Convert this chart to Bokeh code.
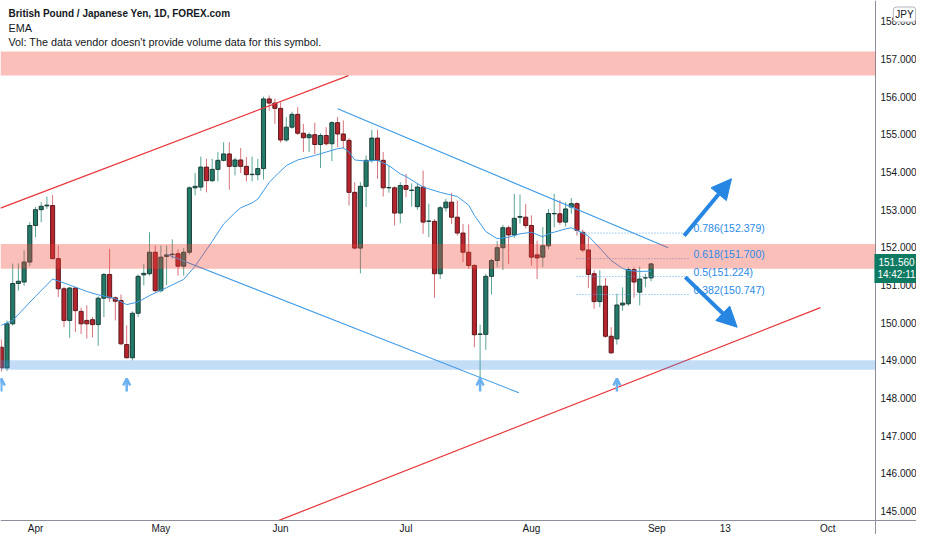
from bokeh.plotting import figure
from bokeh.models import (Range1d, FixedTicker, NumeralTickFormatter, ColumnDataSource,
                          BoxAnnotation, Label, Arrow, NormalHead, OpenHead)
from bokeh.embed import file_html
from bokeh.resources import INLINE

# ---------------- data (bar index 0 = 1 Apr 2021, trading days) ----------------
bar_idx = list(range(-6, 109))
opens = [149.35, 148.80, 149.97, 151.04, 151.08, 151.61,
         152.58, 153.00, 153.10, 153.11, 151.70, 150.90, 150.06, 150.92, 150.30, 150.06,
         150.08, 149.95, 150.65, 151.28, 150.66, 150.59, 149.42, 149.07, 150.25, 151.27,
         151.30, 151.87, 150.85, 151.76, 151.81, 151.83, 151.50, 151.87, 153.58, 153.60,
         154.13, 153.77, 154.07, 154.31, 154.48, 154.15, 154.32, 154.15, 153.93, 153.93,
         154.09, 155.94, 155.83, 155.69, 154.85, 155.19, 155.53, 155.03, 154.91, 154.99,
         154.73, 154.97, 154.75, 155.31, 155.01, 154.84, 153.46, 151.98, 153.62, 154.31,
         154.90, 154.31, 153.58, 153.58, 152.91, 153.64, 153.51, 153.08, 153.60, 152.69,
         152.69, 151.30, 153.05, 153.20, 152.80, 152.38, 151.87, 151.52, 149.69, 149.69,
         151.23, 151.65, 151.99, 152.52, 152.33, 152.80, 152.80, 152.58, 151.80, 151.74,
         152.04, 152.89, 152.89, 152.67, 153.07, 153.16, 152.40, 151.93, 151.30, 150.56,
         150.97, 149.64, 149.57, 150.47, 150.50, 151.41, 150.81, 151.19, 151.19]
highs = [149.55, 150.06, 151.57, 151.57, 151.92, 152.67,
         153.07, 153.20, 153.35, 153.39, 152.05, 150.95, 150.95, 150.95, 150.40, 150.46,
         150.15, 150.70, 151.32, 151.96, 150.70, 150.75, 149.93, 150.30, 151.28, 151.56,
         152.40, 152.05, 152.05, 152.05, 152.21, 151.95, 151.98, 153.62, 153.97, 154.41,
         154.35, 154.35, 154.53, 154.79, 154.79, 154.38, 154.64, 154.40, 154.41, 154.35,
         156.00, 156.03, 155.95, 155.85, 155.46, 155.60, 155.72, 155.28, 155.05, 155.31,
         155.03, 155.19, 155.35, 155.46, 155.37, 154.90, 153.73, 153.73, 154.44, 155.12,
         155.12, 154.53, 154.17, 153.62, 153.73, 153.95, 153.70, 153.70, 154.04, 153.16,
         152.75, 153.10, 153.29, 153.44, 153.24, 152.62, 152.61, 151.55, 149.95, 151.30,
         151.70, 152.17, 152.60, 152.58, 153.42, 153.40, 153.15, 152.85, 152.18, 152.54,
         153.02, 153.42, 153.25, 153.20, 153.31, 153.20, 152.47, 152.27, 151.39, 151.39,
         151.19, 149.88, 150.77, 150.94, 151.47, 151.47, 151.49, 151.30, 151.58]
lows = [148.70, 148.72, 149.92, 150.85, 150.98, 151.50,
        152.27, 152.67, 153.02, 151.68, 150.68, 149.88, 149.60, 149.75, 149.70, 149.58,
        149.61, 149.39, 150.15, 150.55, 150.06, 149.40, 149.05, 149.00, 150.15, 150.99,
        151.25, 150.80, 150.80, 151.00, 151.70, 151.25, 151.25, 151.80, 153.38, 153.50,
        153.46, 153.73, 153.75, 154.28, 153.53, 153.91, 153.97, 153.75, 153.75, 153.78,
        153.80, 155.63, 155.28, 154.78, 154.80, 155.15, 154.98, 154.53, 154.53, 154.48,
        154.11, 154.70, 154.29, 154.66, 154.62, 153.11, 151.95, 151.31, 153.07, 154.25,
        153.82, 153.35, 153.45, 152.58, 152.64, 153.33, 153.08, 153.00, 152.36, 152.27,
        150.66, 151.16, 152.95, 152.62, 152.31, 151.61, 151.43, 149.35, 148.46, 149.28,
        150.75, 151.47, 151.40, 151.56, 152.25, 152.63, 152.50, 151.52, 151.16, 151.47,
        151.95, 152.53, 152.60, 152.55, 152.89, 152.31, 151.87, 150.92, 150.37, 150.41,
        149.60, 149.17, 149.42, 150.32, 150.45, 150.66, 150.46, 150.94, 151.10]
closes = [148.80, 149.97, 151.04, 151.10, 151.61, 152.58,
          153.00, 153.09, 153.12, 151.70, 150.90, 150.06, 150.92, 150.32, 149.97, 149.97,
          149.95, 150.65, 151.28, 150.66, 150.57, 149.44, 149.07, 150.25, 151.23, 151.31,
          151.87, 150.85, 151.74, 151.80, 151.82, 151.50, 151.87, 153.58, 153.62, 154.13,
          153.77, 154.07, 154.31, 154.48, 154.15, 154.32, 154.15, 153.93, 153.94, 154.09,
          155.94, 155.83, 155.69, 154.85, 155.19, 155.53, 155.03, 154.91, 154.99, 154.73,
          154.97, 154.75, 155.31, 155.01, 154.84, 153.46, 151.98, 153.62, 154.31, 154.90,
          154.31, 153.58, 153.59, 152.91, 153.64, 153.54, 153.52, 153.60, 152.67, 152.70,
          151.30, 153.05, 153.20, 152.80, 152.38, 151.87, 151.52, 149.68, 149.70, 151.23,
          151.65, 151.99, 152.52, 152.33, 152.77, 152.82, 152.58, 151.74, 151.72, 152.04,
          152.90, 152.90, 152.67, 153.02, 153.16, 152.45, 151.93, 151.28, 150.56, 150.97,
          149.64, 149.20, 150.47, 150.52, 151.41, 151.08, 151.16, 151.19, 151.56]

ema_idx = [-6, -4, 0, 3, 6, 9, 11, 14, 16, 18, 20, 23, 26, 28, 31, 33, 35, 36, 38, 39,
           41, 42, 44, 46, 49, 51, 53, 54, 55, 56, 58, 60, 62, 64, 65, 68, 71, 74, 76, 77,
           79, 81, 83, 85, 87, 89, 90, 93, 94, 96, 97, 99, 101, 103, 104, 106, 108]
ema_val = [149.93, 150.06, 150.70, 151.16, 151.00, 150.83, 150.74, 150.64, 150.48, 150.55,
           150.72, 150.93, 151.15, 151.50, 152.16, 152.62, 152.92, 153.05, 153.18, 153.28,
           153.72, 153.88, 154.17, 154.32, 154.44, 154.53, 154.62, 154.64, 154.53, 154.32,
           154.29, 154.31, 154.17, 153.95, 153.88, 153.60, 153.46, 153.35, 153.12, 152.85,
           152.42, 152.23, 152.27, 152.36, 152.40, 152.28, 152.36, 152.49, 152.52, 152.38,
           152.30, 151.98, 151.65, 151.44, 151.39, 151.36, 151.37]

price_ticks = [145, 146, 147, 148, 149, 150, 151, 152, 153, 154, 155, 156, 157, 158]
date_ticks = [0, 22, 43, 65, 87, 109, 121, 139]
date_labels = ["Apr", "May", "Jun", "Jul", "Aug", "Sep", "13", "Oct"]

# drawings (bar index, price)
zones_pink = [(156.56, 157.20), (151.43, 152.09)]
zone_blue = (148.75, 149.00)
red_lines = [((-6.14, 153.04), (54.9, 156.56)), ((39.5, 144.56), (137.7, 150.40))]
blue_lines = [((53.0, 155.68), (111.0, 151.99)), ((23.1, 151.81), (84.8, 148.14))]
fib_ratios = ["0.786", "0.618", "0.5", "0.382"]
fib_levels = [152.379, 151.700, 151.224, 150.747]
fib_start, fib_end = 94.9, 114.6
big_arrows = [((113.8, 152.31), (122.1, 153.82)), ((114.0, 151.21), (123.1, 149.88))]
marker_idx = [-6, 16, 78, 102]
last_price = 151.560
countdown = "14:42:11"

# ---------------- layout helpers (reference pixel -> data) ----------------
X0, DX = 35.0, 5.7        # x of bar 0, px per bar
Y157, PPU = 58.5, 37.67   # y of 157.000, px per unit
W, H = 916, 534
AX_X, AX_Y = 875, 520     # price-scale line x, time-scale line y


def px2k(x):
    return (x - X0) / DX


def py2p(y):
    return 157 - (y - Y157) / PPU


FONT = "Liberation Sans"
TXT = "#131722"
GREEN_F, GREEN_L, GREEN_W = "#227a69", "#1c3d37", "#5aa597"
RED_F, RED_L, RED_W = "#b6242e", "#5c1a1e", "#d6737b"

p = figure(width=W, height=H, output_backend="svg", toolbar_location=None,
           x_range=Range1d(px2k(0), px2k(W)), y_range=Range1d(py2p(H), py2p(0)),
           y_axis_location="right", x_axis_location="below",
           min_border=0, min_border_left=0, min_border_top=0,
           min_border_right=0, min_border_bottom=0)
p.background_fill_color = "white"
p.border_fill_color = "white"
p.outline_line_color = None
p.xgrid.visible = False
p.ygrid.visible = False

# axes (fixed inside the canvas so the price scale area can hold annotations)
ya = p.yaxis[0]
ya.fixed_location = px2k(AX_X)
ya.ticker = FixedTicker(ticks=price_ticks)
ya.formatter = NumeralTickFormatter(format="0.000")
ya.major_tick_line_color = None
ya.minor_tick_line_color = None
ya.major_tick_out = 0
ya.major_tick_in = 0
ya.major_label_standoff = 5
ya.major_label_text_font = FONT
ya.major_label_text_font_size = "10px"
ya.major_label_text_color = TXT
ya.axis_line_color = "#8c8f99"

xa = p.xaxis[0]
xa.fixed_location = py2p(AX_Y)
xa.ticker = FixedTicker(ticks=date_ticks)
xa.major_label_overrides = {t: l for t, l in zip(date_ticks, date_labels)}
xa.major_tick_line_color = None
xa.minor_tick_line_color = None
xa.major_tick_out = 0
xa.major_tick_in = 0
xa.major_label_standoff = 2
xa.major_label_text_font = FONT
xa.major_label_text_font_size = "10px"
xa.major_label_text_color = TXT
xa.axis_line_color = "#8c8f99"

# candles
up = [i for i in range(len(bar_idx)) if closes[i] >= opens[i]]
dn = [i for i in range(len(bar_idx)) if closes[i] < opens[i]]


def src(ids):
    return ColumnDataSource(dict(
        x=[bar_idx[i] for i in ids],
        h=[highs[i] for i in ids], l=[lows[i] for i in ids],
        top=[max(opens[i], closes[i]) for i in ids],
        bot=[min(opens[i], closes[i]) for i in ids]))


su, sd = src(up), src(dn)
p.segment(x0="x", y0="l", x1="x", y1="h", source=su, line_color=GREEN_W, line_width=1)
p.segment(x0="x", y0="l", x1="x", y1="h", source=sd, line_color=RED_W, line_width=1)
p.vbar(x="x", top="top", bottom="bot", width=0.72, source=su,
       fill_color=GREEN_F, line_color=GREEN_L, line_width=1)
p.vbar(x="x", top="top", bottom="bot", width=0.72, source=sd,
       fill_color=RED_F, line_color=RED_L, line_width=1)

# EMA
p.line(ema_idx, ema_val, line_color="#3d9ae6", line_width=1)

# zones (stop at the price scale)
for b, t in zones_pink:
    p.add_layout(BoxAnnotation(bottom=b, top=t, right=px2k(AX_X), fill_color="#f44336",
                               fill_alpha=0.34, line_color=None))
p.add_layout(BoxAnnotation(bottom=zone_blue[0], top=zone_blue[1], right=px2k(AX_X),
                           fill_color="#3d8ee6", fill_alpha=0.3, line_color=None))

# trend lines
p.segment(x0=[a[0] for a, b in red_lines], y0=[a[1] for a, b in red_lines],
          x1=[b[0] for a, b in red_lines], y1=[b[1] for a, b in red_lines],
          line_color="#e8363a", line_width=1.2)
p.segment(x0=[a[0] for a, b in blue_lines], y0=[a[1] for a, b in blue_lines],
          x1=[b[0] for a, b in blue_lines], y1=[b[1] for a, b in blue_lines],
          line_color="#3d9ae6", line_width=1.1)

# fib levels
p.segment(x0=[fib_start] * 4, x1=[fib_end] * 4, y0=fib_levels, y1=fib_levels,
          line_color="#5aa6ea", line_width=1, line_dash="1 2")

# white time-scale strip under the chart area
p.quad(left=px2k(0), right=px2k(W), bottom=py2p(H), top=py2p(AX_Y),
       fill_color="white", line_color=None)

for r, lv in zip(fib_ratios, fib_levels):
    p.add_layout(Label(x=px2k(693), y=lv + 5 / PPU, text=f"{r}({lv:.3f})",
                       text_font=FONT, text_font_size="10.5px",
                       text_color="#2b8be6", text_baseline="middle", text_align="left"))

# big arrows
for (xs, ys), (xe, ye) in big_arrows:
    p.add_layout(Arrow(end=NormalHead(size=20, fill_color="#2686e2", line_color="#2686e2"),
                       x_start=xs, y_start=ys, x_end=xe, y_end=ye,
                       line_color="#2686e2", line_width=4))

# small up markers under lows
for k in marker_idx:
    p.add_layout(Arrow(end=OpenHead(size=7, line_color="#6cb1f0", line_width=2.5),
                       x_start=k, y_start=py2p(391), x_end=k, y_end=py2p(378),
                       line_color="#6cb1f0", line_width=2.5))

# header texts
hdr = [("British Pound / Japanese Yen, 1D, FOREX.com", 13, "bold", "10px"),
       ("EMA", 27, "normal", "10.8px"),
       ("Vol: The data vendor doesn't provide volume data for this symbol.", 41, "normal", "10.8px")]
for t, yy, fs, sz in hdr:
    p.add_layout(Label(x=px2k(8), y=py2p(yy), text=t, text_font=FONT,
                       text_font_size=sz, text_font_style=fs, text_color=TXT,
                       text_baseline="middle", text_align="left"))

# last price box on the price scale
p.add_layout(Label(x=px2k(896), y=py2p(268), text=f"{last_price:.3f}\n{countdown}",
                   text_font=FONT, text_font_size="10px", text_color="white",
                   text_align="center", text_baseline="middle",
                   background_fill_color="#0e7a61", background_fill_alpha=1.0,
                   padding=3, text_line_height=1.1))
# currency tag
p.add_layout(Label(x=px2k(904), y=py2p(14), text="JPY", text_font=FONT,
                   text_font_size="10px", text_color=TXT, text_align="center",
                   text_baseline="middle", background_fill_color="white",
                   border_line_color="#b2b5be", padding=2, border_radius=3))

open("out.html", "w").write(file_html(p, INLINE))
